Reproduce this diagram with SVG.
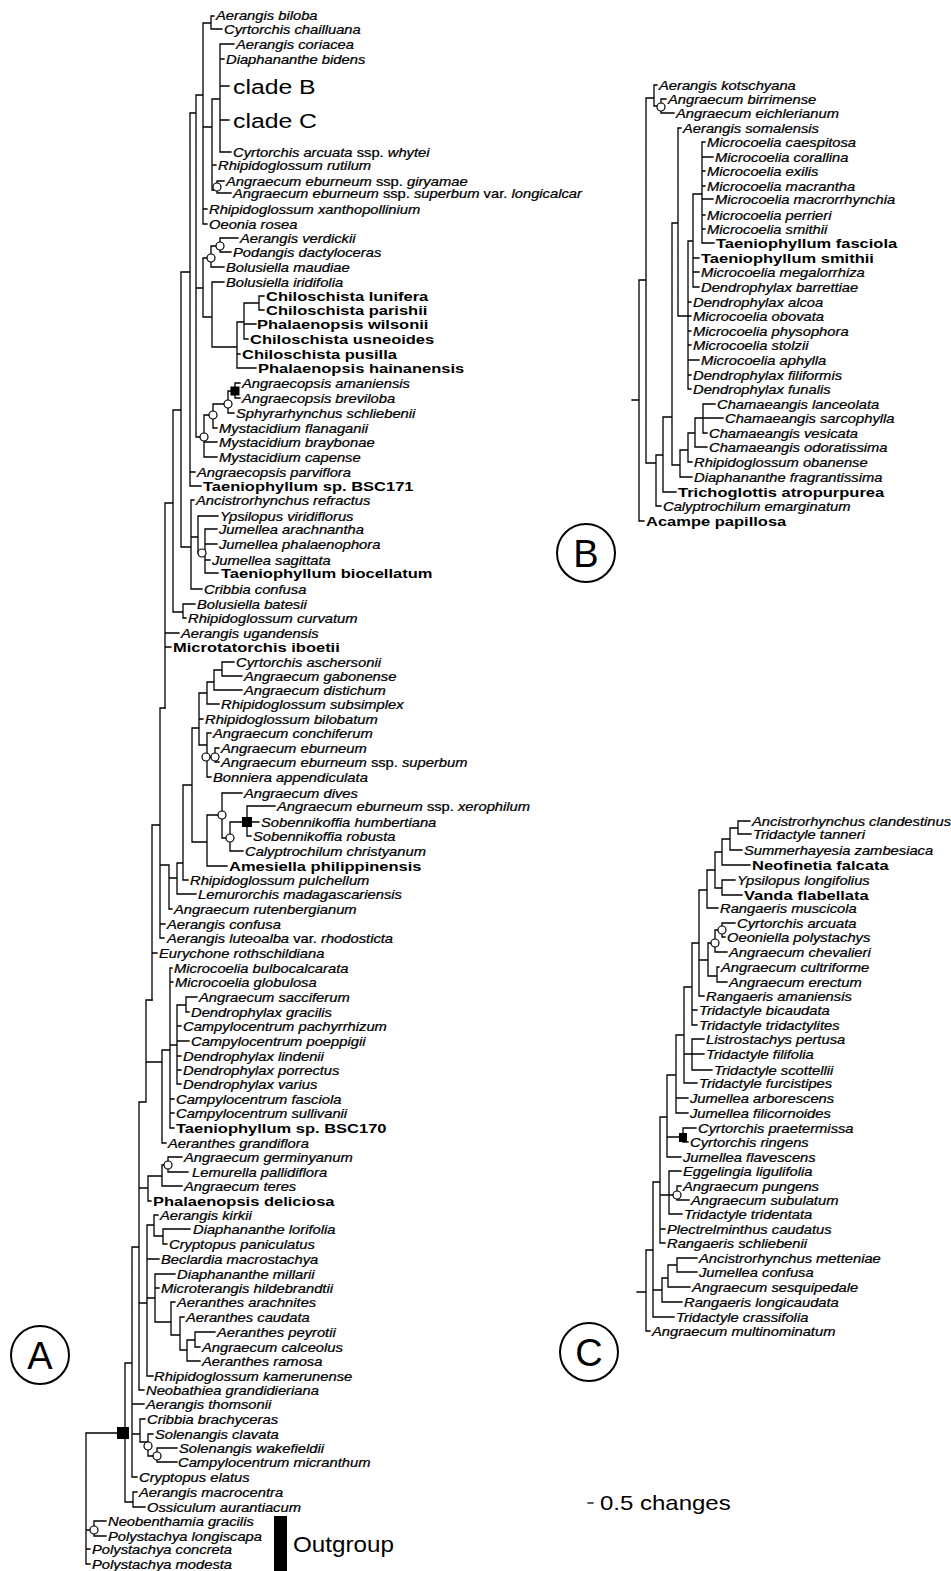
<svg xmlns="http://www.w3.org/2000/svg" width="951" height="1571" viewBox="0 0 951 1571">
<style>
text{font-family:"Liberation Sans",Arial,Helvetica,sans-serif;fill:#000}
.i{font-style:italic;font-size:12.5px;transform:scale(1.18,1);stroke:#000;stroke-width:0.25}
.b{font-weight:bold;font-size:13px;transform:scale(1.27,1)}
.n{font-style:normal}
.big{font-size:21px;transform:scale(1.18,1)}
.lbl{font-size:38px;text-anchor:middle}
.ln{fill:none;stroke:#000;stroke-width:1.3;stroke-linecap:square}
.nd{fill:#fff;stroke:#000;stroke-width:1.2}
.sq{fill:#000}
.ring{fill:none;stroke:#000;stroke-width:2}
</style>
<rect width="951" height="1571" fill="#fff"/>
<g id="connectors">
<path class="ln" d="M211 16V29M211 16H214M211 29H222M203 23V224M203 23H211M203 209H207M203 224H207M203 127H212M212 99V190M212 99H220M212 165H216M212 190H217M220 44V152M220 44H234M220 59H224M220 86H229M220 120H229M220 152H231M217 181V193M217 181H224M217 193H231M220 238V252M220 238H238M220 252H231M211 246V267M211 246H220M211 267H224M259 296V310M259 296H264M259 310H264M244 303V339M244 303H259M244 324H256M244 339H248M237 322V368M237 322H244M237 354H240M237 368H256M212 282V347M212 282H224M212 347H237M203 258V317M203 258H211M203 317H212M235 383V398M235 383H240M235 398H240M228 391V413M228 391H235M228 413H234M213 404V428M213 404H228M213 428H217M204 415V457M204 415H213M204 442H217M204 457H217M196 95V437M196 95H203M196 288H203M196 437H204M190 113V486M190 113H196M190 472H195M190 486H201M205 529V573M205 529H217M205 544H217M205 560H210M205 573H218M198 516V553M198 516H218M198 553H205M191 500V589M191 500H194M191 537H198M191 589H202M181 272V547M181 272H190M181 547H191M183 604V618M183 604H195M183 618H186M173 410V612M173 410H181M173 612H183M165 503V708M165 503H173M165 633H179M165 647H171"/>
<path class="ln" d="M222 662V676M222 662H234M222 676H242M214 670V690M214 670H222M214 690H242M207 682V704M207 682H214M207 704H219M215 748V762M215 748H219M215 762H219M207 733V777M207 733H211M207 757H215M207 777H211M199 693V745M199 693H207M199 719H203M199 745H207M247 806V836M247 806H275M247 822H259M247 836H251M230 822V851M230 822H247M230 851H243M222 793V838M222 793H242M222 838H230M207 815V866M207 815H222M207 866H227M192 728V842M192 728H199M192 842H207M183 785V880M183 785H192M183 880H188M177 863V894M177 863H183M177 894H196M169 865V909M169 878H177M169 909H172M160 708V938M160 708H165M160 865H169M160 924H165M160 938H164M152 825V1000M152 825H160M152 953H157"/>
<path class="ln" d="M186 997V1012M186 997H197M186 1012H189M177 1005V1084M177 1005H186M177 1026H181M177 1041H189M177 1056H181M177 1070H181M177 1084H181M170 968V1128M170 968H172M170 982H173M170 1045H177M170 1099H174M170 1113H174M170 1128H174M162 1050V1143M162 1050H170M162 1143H166M146 1000V1102M146 1000H152M146 1062H162M168 1157V1172M168 1157H182M168 1172H188M162 1165V1186M162 1165H168M162 1186H182M148 1176V1201M148 1176H162M148 1201H151M163 1229V1244M163 1229H190M163 1244H167M154 1215V1236M154 1215H158M154 1236H163M195 1332V1347M195 1332H215M195 1347H200M187 1340V1361M187 1340H195M187 1361H200M180 1317V1350M180 1317H184M180 1350H187M171 1302V1335M171 1302H175M171 1335H180M155 1274V1322M155 1274H175M155 1288H159M155 1322H171M147 1225V1376M147 1225H154M147 1259H159M147 1298H155M147 1376H153M139 1102V1390M139 1102H146M139 1188H148M139 1303H147M139 1390H144M157 1448V1462M157 1448H177M157 1462H177M148 1434V1456M148 1434H153M148 1456H157M140 1419V1442M140 1419H145M140 1442H148M132 1247V1477M132 1247H139M132 1404H144M132 1434H140M132 1477H137M133 1492V1507M133 1492H137M133 1507H145M125 1363V1502M125 1363H132M125 1502H133M86 1433V1564M86 1433H125M86 1530H94M86 1549H90M86 1564H90M94 1521V1536M94 1521H106M94 1536H106"/>
<path class="ln" d="M661 99V113M661 99H666M661 113H674M654 85V106M654 85H657M654 106H661M702 142V243M702 142H705M702 157H713M702 171H705M702 186H705M702 199H713M702 215H705M702 229H705M702 243H714M693 194V287M693 194H702M693 258H699M693 272H699M693 287H699M688 241V389M688 241H693M688 302H691M688 316H691M688 331H691M688 345H691M688 360H699M688 375H691M688 389H691M678 128V316M678 128H681M678 316H688M703 404V433M703 404H715M695 418H723M703 433H707M695 418V447M695 447H707M688 433V462M688 433H695M688 462H692M680 450V477M680 450H688M680 477H692M672 223V465M672 223H678M672 465H680M663 417V492M663 417H672M663 492H676M656 455V506M656 455H663M656 506H661M646 98V463M646 98H654M646 463H656M639 280V521M639 280H646M639 521H644M632 400H639"/>
<path class="ln" d="M738 821V834M738 821H750M738 834H751M730 828V850M730 828H738M730 850H742M722 839V865M722 839H730M722 865H750M722 880V895M722 880H735M722 895H742M715 852V888M715 852H722M715 888H722M707 870V908M707 870H715M707 908H718M722 923V937M722 923H735M722 937H725M715 930V952M715 930H722M715 952H727M717 967V982M717 967H719M717 982H727M708 943V976M708 943H715M708 976H717M699 890V996M699 890H707M699 960H708M699 996H704M692 943V1025M692 943H699M692 1010H697M692 1025H697M692 1039V1070M692 1039H704M684 1054H704M692 1070H712M684 987V1083M684 987H692M684 1083H697M676 1035V1113M676 1035H684M676 1098H688M676 1113H688M683 1128V1142M683 1128H696M683 1142H688M667 1075V1157M667 1075H676M667 1137H683M667 1157H681M677 1186V1200M677 1186H681M677 1200H689M669 1171V1214M669 1171H681M669 1195H677M669 1214H682M660 1117V1243M660 1117H667M660 1195H669M660 1229H665M660 1243H665M677 1258V1272M677 1258H697M677 1272H697M668 1265V1287M668 1265H677M668 1287H690M662 1278V1302M662 1278H668M662 1302H682M653 1182V1317M653 1182H660M653 1290H662M653 1317H674M646 1250V1331M646 1250H653M646 1331H650M637 1292H646"/>
<path class="ln" d="M588 1503H593"/>
<g id="node-marks">
<circle class="nd" cx="217" cy="187" r="4"/><circle class="nd" cx="220" cy="246" r="4"/><circle class="nd" cx="211" cy="258" r="4"/><circle class="nd" cx="228" cy="404" r="4"/><circle class="nd" cx="213" cy="415" r="4"/><circle class="nd" cx="204" cy="437" r="4"/><circle class="nd" cx="202" cy="553" r="4"/><circle class="nd" cx="206" cy="757" r="4"/><circle class="nd" cx="215" cy="757" r="4"/><circle class="nd" cx="222" cy="815" r="4"/><circle class="nd" cx="230" cy="838" r="4"/><circle class="nd" cx="168" cy="1165" r="4"/><circle class="nd" cx="148" cy="1446" r="4"/><circle class="nd" cx="157" cy="1456" r="4"/><circle class="nd" cx="94" cy="1530" r="4"/><circle class="nd" cx="661" cy="107" r="4"/><circle class="nd" cx="722" cy="930" r="4"/><circle class="nd" cx="715" cy="943" r="4"/><circle class="nd" cx="677" cy="1195" r="4"/>
<rect class="sq" x="230.5" y="386.5" width="9" height="9"/><rect class="sq" x="242" y="817" width="10" height="10"/><rect class="sq" x="117" y="1427" width="12" height="12"/><rect class="sq" x="679" y="1133" width="8" height="9"/>
</g>
</g>
<g id="a1" transform="translate(216,19.5)"><text class="i">Aerangis biloba</text></g>
<g id="a2" transform="translate(224,33.5)"><text class="i">Cyrtorchis chailluana</text></g>
<g id="a3" transform="translate(236,48.5)"><text class="i">Aerangis coriacea</text></g>
<g id="a4" transform="translate(226,63.5)"><text class="i">Diaphananthe bidens</text></g>
<g id="cladeB" transform="translate(233,94)"><text class="big">clade B</text></g>
<g id="cladeC" transform="translate(233,128)"><text class="big">clade C</text></g>
<g id="a7" transform="translate(233,156.5)"><text class="i">Cyrtorchis arcuata <tspan class="n">ssp.</tspan> whytei</text></g>
<g id="a8" transform="translate(218,169.5)"><text class="i">Rhipidoglossum rutilum</text></g>
<g id="a9" transform="translate(226,185.5)"><text class="i">Angraecum eburneum <tspan class="n">ssp.</tspan> giryamae</text></g>
<g id="a10" transform="translate(233,197.5)"><text class="i">Angraecum eburneum <tspan class="n">ssp.</tspan> superbum <tspan class="n">var.</tspan> longicalcar</text></g>
<g id="a11" transform="translate(209,213.5)"><text class="i">Rhipidoglossum xanthopollinium</text></g>
<g id="a12" transform="translate(209,228.5)"><text class="i">Oeonia rosea</text></g>
<g id="a13" transform="translate(240,242.5)"><text class="i">Aerangis verdickii</text></g>
<g id="a14" transform="translate(233,256.5)"><text class="i">Podangis dactyloceras</text></g>
<g id="a15" transform="translate(226,271.5)"><text class="i">Bolusiella maudiae</text></g>
<g id="a16" transform="translate(226,286.5)"><text class="i">Bolusiella iridifolia</text></g>
<g id="a17" transform="translate(266,301)"><text class="b">Chiloschista lunifera</text></g>
<g id="a18" transform="translate(266,315)"><text class="b">Chiloschista parishii</text></g>
<g id="a19" transform="translate(257,329)"><text class="b">Phalaenopsis wilsonii</text></g>
<g id="a20" transform="translate(250,344)"><text class="b">Chiloschista usneoides</text></g>
<g id="a21" transform="translate(242,359)"><text class="b">Chiloschista pusilla</text></g>
<g id="a22" transform="translate(258,373)"><text class="b">Phalaenopsis hainanensis</text></g>
<g id="a23" transform="translate(242,387.5)"><text class="i">Angraecopsis amaniensis</text></g>
<g id="a24" transform="translate(242,402.5)"><text class="i">Angraecopsis breviloba</text></g>
<g id="a25" transform="translate(236,417.5)"><text class="i">Sphyrarhynchus schliebenii</text></g>
<g id="a26" transform="translate(219,432.5)"><text class="i">Mystacidium flanaganii</text></g>
<g id="a27" transform="translate(219,446.5)"><text class="i">Mystacidium braybonae</text></g>
<g id="a28" transform="translate(219,461.5)"><text class="i">Mystacidium capense</text></g>
<g id="a29" transform="translate(197,476.5)"><text class="i">Angraecopsis parviflora</text></g>
<g id="a30" transform="translate(203,491)"><text class="b">Taeniophyllum sp. BSC171</text></g>
<g id="a31" transform="translate(196,504.5)"><text class="i">Ancistrorhynchus refractus</text></g>
<g id="a32" transform="translate(220,520.5)"><text class="i">Ypsilopus viridiflorus</text></g>
<g id="a33" transform="translate(219,533.5)"><text class="i">Jumellea arachnantha</text></g>
<g id="a34" transform="translate(219,548.5)"><text class="i">Jumellea phalaenophora</text></g>
<g id="a35" transform="translate(212,564.5)"><text class="i">Jumellea sagittata</text></g>
<g id="a36" transform="translate(221,578)"><text class="b">Taeniophyllum biocellatum</text></g>
<g id="a37" transform="translate(204,593.5)"><text class="i">Cribbia confusa</text></g>
<g id="a38" transform="translate(197,608.5)"><text class="i">Bolusiella batesii</text></g>
<g id="a39" transform="translate(188,622.5)"><text class="i">Rhipidoglossum curvatum</text></g>
<g id="a40" transform="translate(181,637.5)"><text class="i">Aerangis ugandensis</text></g>
<g id="a41" transform="translate(173,652)"><text class="b">Microtatorchis iboetii</text></g>
<g id="a42" transform="translate(236,666.5)"><text class="i">Cyrtorchis aschersonii</text></g>
<g id="a43" transform="translate(244,680.5)"><text class="i">Angraecum gabonense</text></g>
<g id="a44" transform="translate(244,694.5)"><text class="i">Angraecum distichum</text></g>
<g id="a45" transform="translate(221,708.5)"><text class="i">Rhipidoglossum subsimplex</text></g>
<g id="a46" transform="translate(205,723.5)"><text class="i">Rhipidoglossum bilobatum</text></g>
<g id="a47" transform="translate(213,737.5)"><text class="i">Angraecum conchiferum</text></g>
<g id="a48" transform="translate(221,752.5)"><text class="i">Angraecum eburneum</text></g>
<g id="a49" transform="translate(221,766.5)"><text class="i">Angraecum eburneum <tspan class="n">ssp.</tspan> superbum</text></g>
<g id="a50" transform="translate(213,781.5)"><text class="i">Bonniera appendiculata</text></g>
<g id="a51" transform="translate(244,797.5)"><text class="i">Angraecum dives</text></g>
<g id="a52" transform="translate(277,810.5)"><text class="i">Angraecum eburneum <tspan class="n">ssp.</tspan> xerophilum</text></g>
<g id="a53" transform="translate(261,826.5)"><text class="i">Sobennikoffia humbertiana</text></g>
<g id="a54" transform="translate(253,840.5)"><text class="i">Sobennikoffia robusta</text></g>
<g id="a55" transform="translate(245,855.5)"><text class="i">Calyptrochilum christyanum</text></g>
<g id="a56" transform="translate(229,871)"><text class="b">Amesiella philippinensis</text></g>
<g id="a57" transform="translate(190,884.5)"><text class="i">Rhipidoglossum pulchellum</text></g>
<g id="a58" transform="translate(198,898.5)"><text class="i">Lemurorchis madagascariensis</text></g>
<g id="a59" transform="translate(174,913.5)"><text class="i">Angraecum rutenbergianum</text></g>
<g id="a60" transform="translate(167,928.5)"><text class="i">Aerangis confusa</text></g>
<g id="a61" transform="translate(167,942.5)"><text class="i">Aerangis luteoalba <tspan class="n">var.</tspan> rhodosticta</text></g>
<g id="a62" transform="translate(159,957.5)"><text class="i">Eurychone rothschildiana</text></g>
<g id="a63" transform="translate(174,972.5)"><text class="i">Microcoelia bulbocalcarata</text></g>
<g id="a64" transform="translate(175,986.5)"><text class="i">Microcoelia globulosa</text></g>
<g id="a65" transform="translate(199,1001.5)"><text class="i">Angraecum sacciferum</text></g>
<g id="a66" transform="translate(191,1016.5)"><text class="i">Dendrophylax gracilis</text></g>
<g id="a67" transform="translate(183,1030.5)"><text class="i">Campylocentrum pachyrrhizum</text></g>
<g id="a68" transform="translate(191,1045.5)"><text class="i">Campylocentrum poeppigii</text></g>
<g id="a69" transform="translate(183,1060.5)"><text class="i">Dendrophylax lindenii</text></g>
<g id="a70" transform="translate(183,1074.5)"><text class="i">Dendrophylax porrectus</text></g>
<g id="a71" transform="translate(183,1088.5)"><text class="i">Dendrophylax varius</text></g>
<g id="a72" transform="translate(176,1103.5)"><text class="i">Campylocentrum fasciola</text></g>
<g id="a73" transform="translate(176,1117.5)"><text class="i">Campylocentrum sullivanii</text></g>
<g id="a74" transform="translate(176,1133)"><text class="b">Taeniophyllum sp. BSC170</text></g>
<g id="a75" transform="translate(168,1147.5)"><text class="i">Aeranthes grandiflora</text></g>
<g id="a76" transform="translate(184,1161.5)"><text class="i">Angraecum germinyanum</text></g>
<g id="a77" transform="translate(192,1176.5)"><text class="i">Lemurella pallidiflora</text></g>
<g id="a78" transform="translate(184,1190.5)"><text class="i">Angraecum teres</text></g>
<g id="a79" transform="translate(153,1206)"><text class="b">Phalaenopsis deliciosa</text></g>
<g id="a80" transform="translate(160,1219.5)"><text class="i">Aerangis kirkii</text></g>
<g id="a81" transform="translate(193,1233.5)"><text class="i">Diaphananthe lorifolia</text></g>
<g id="a82" transform="translate(169,1248.5)"><text class="i">Cryptopus paniculatus</text></g>
<g id="a83" transform="translate(161,1263.5)"><text class="i">Beclardia macrostachya</text></g>
<g id="a84" transform="translate(177,1278.5)"><text class="i">Diaphananthe millarii</text></g>
<g id="a85" transform="translate(161,1292.5)"><text class="i">Microterangis hildebrandtii</text></g>
<g id="a86" transform="translate(177,1306.5)"><text class="i">Aeranthes arachnites</text></g>
<g id="a87" transform="translate(186,1321.5)"><text class="i">Aeranthes caudata</text></g>
<g id="a88" transform="translate(217,1336.5)"><text class="i">Aeranthes peyrotii</text></g>
<g id="a89" transform="translate(202,1351.5)"><text class="i">Angraecum calceolus</text></g>
<g id="a90" transform="translate(202,1365.5)"><text class="i">Aeranthes ramosa</text></g>
<g id="a91" transform="translate(154,1380.5)"><text class="i">Rhipidoglossum kamerunense</text></g>
<g id="a92" transform="translate(146,1394.5)"><text class="i">Neobathiea grandidieriana</text></g>
<g id="a93" transform="translate(146,1408.5)"><text class="i">Aerangis thomsonii</text></g>
<g id="a94" transform="translate(147,1423.5)"><text class="i">Cribbia brachyceras</text></g>
<g id="a95" transform="translate(155,1438.5)"><text class="i">Solenangis clavata</text></g>
<g id="a96" transform="translate(179,1452.5)"><text class="i">Solenangis wakefieldii</text></g>
<g id="a97" transform="translate(178,1466.5)"><text class="i">Campylocentrum micranthum</text></g>
<g id="a98" transform="translate(139,1481.5)"><text class="i">Cryptopus elatus</text></g>
<g id="a99" transform="translate(139,1496.5)"><text class="i">Aerangis macrocentra</text></g>
<g id="a100" transform="translate(147,1511.5)"><text class="i">Ossiculum aurantiacum</text></g>
<g id="a101" transform="translate(108,1525.5)"><text class="i">Neobenthamia gracilis</text></g>
<g id="a102" transform="translate(108,1540.5)"><text class="i">Polystachya longiscapa</text></g>
<g id="a103" transform="translate(92,1553.5)"><text class="i">Polystachya concreta</text></g>
<g id="a104" transform="translate(92,1568.5)"><text class="i">Polystachya modesta</text></g>
<g id="outgroup"><rect x="274" y="1516" width="13" height="55" fill="#000"/><g transform="translate(293,1552)"><text style="font-size:22px;transform:scale(1.1,1)">Outgroup</text></g></g>
<g id="b1" transform="translate(659,89.5)"><text class="i">Aerangis kotschyana</text></g>
<g id="b2" transform="translate(668,103.5)"><text class="i">Angraecum birrimense</text></g>
<g id="b3" transform="translate(676,117.5)"><text class="i">Angraecum eichlerianum</text></g>
<g id="b4" transform="translate(683,132.5)"><text class="i">Aerangis somalensis</text></g>
<g id="b5" transform="translate(707,146.5)"><text class="i">Microcoelia caespitosa</text></g>
<g id="b6" transform="translate(715,161.5)"><text class="i">Microcoelia corallina</text></g>
<g id="b7" transform="translate(707,175.5)"><text class="i">Microcoelia exilis</text></g>
<g id="b8" transform="translate(707,190.5)"><text class="i">Microcoelia macrantha</text></g>
<g id="b9" transform="translate(715,203.5)"><text class="i">Microcoelia macrorrhynchia</text></g>
<g id="b10" transform="translate(707,219.5)"><text class="i">Microcoelia perrieri</text></g>
<g id="b11" transform="translate(707,233.5)"><text class="i">Microcoelia smithii</text></g>
<g id="b12" transform="translate(716,248)"><text class="b">Taeniophyllum fasciola</text></g>
<g id="b13" transform="translate(701,263)"><text class="b">Taeniophyllum smithii</text></g>
<g id="b14" transform="translate(701,276.5)"><text class="i">Microcoelia megalorrhiza</text></g>
<g id="b15" transform="translate(701,291.5)"><text class="i">Dendrophylax barrettiae</text></g>
<g id="b16" transform="translate(693,306.5)"><text class="i">Dendrophylax alcoa</text></g>
<g id="b17" transform="translate(693,320.5)"><text class="i">Microcoelia obovata</text></g>
<g id="b18" transform="translate(693,335.5)"><text class="i">Microcoelia physophora</text></g>
<g id="b19" transform="translate(693,349.5)"><text class="i">Microcoelia stolzii</text></g>
<g id="b20" transform="translate(701,364.5)"><text class="i">Microcoelia aphylla</text></g>
<g id="b21" transform="translate(693,379.5)"><text class="i">Dendrophylax filiformis</text></g>
<g id="b22" transform="translate(693,393.5)"><text class="i">Dendrophylax funalis</text></g>
<g id="b23" transform="translate(717,408.5)"><text class="i">Chamaeangis lanceolata</text></g>
<g id="b24" transform="translate(725,422.5)"><text class="i">Chamaeangis sarcophylla</text></g>
<g id="b25" transform="translate(709,437.5)"><text class="i">Chamaeangis vesicata</text></g>
<g id="b26" transform="translate(709,451.5)"><text class="i">Chamaeangis odoratissima</text></g>
<g id="b27" transform="translate(694,466.5)"><text class="i">Rhipidoglossum obanense</text></g>
<g id="b28" transform="translate(694,481.5)"><text class="i">Diaphananthe fragrantissima</text></g>
<g id="b29" transform="translate(678,497)"><text class="b">Trichoglottis atropurpurea</text></g>
<g id="b30" transform="translate(663,510.5)"><text class="i">Calyptrochilum emarginatum</text></g>
<g id="b31" transform="translate(646,526)"><text class="b">Acampe papillosa</text></g>
<g id="c1" transform="translate(752,825.5)"><text class="i">Ancistrorhynchus clandestinus</text></g>
<g id="c2" transform="translate(753,838.5)"><text class="i">Tridactyle tanneri</text></g>
<g id="c3" transform="translate(744,854.5)"><text class="i">Summerhayesia zambesiaca</text></g>
<g id="c4" transform="translate(752,870)"><text class="b">Neofinetia falcata</text></g>
<g id="c5" transform="translate(737,884.5)"><text class="i">Ypsilopus longifolius</text></g>
<g id="c6" transform="translate(744,900)"><text class="b">Vanda flabellata</text></g>
<g id="c7" transform="translate(720,912.5)"><text class="i">Rangaeris muscicola</text></g>
<g id="c8" transform="translate(737,927.5)"><text class="i">Cyrtorchis arcuata</text></g>
<g id="c9" transform="translate(727,941.5)"><text class="i">Oeoniella polystachys</text></g>
<g id="c10" transform="translate(729,956.5)"><text class="i">Angraecum chevalieri</text></g>
<g id="c11" transform="translate(721,971.5)"><text class="i">Angraecum cultriforme</text></g>
<g id="c12" transform="translate(729,986.5)"><text class="i">Angraecum erectum</text></g>
<g id="c13" transform="translate(706,1000.5)"><text class="i">Rangaeris amaniensis</text></g>
<g id="c14" transform="translate(699,1014.5)"><text class="i">Tridactyle bicaudata</text></g>
<g id="c15" transform="translate(699,1029.5)"><text class="i">Tridactyle tridactylites</text></g>
<g id="c16" transform="translate(706,1043.5)"><text class="i">Listrostachys pertusa</text></g>
<g id="c17" transform="translate(706,1058.5)"><text class="i">Tridactyle filifolia</text></g>
<g id="c18" transform="translate(714,1074.5)"><text class="i">Tridactyle scottellii</text></g>
<g id="c19" transform="translate(699,1087.5)"><text class="i">Tridactyle furcistipes</text></g>
<g id="c20" transform="translate(690,1102.5)"><text class="i">Jumellea arborescens</text></g>
<g id="c21" transform="translate(690,1117.5)"><text class="i">Jumellea filicornoides</text></g>
<g id="c22" transform="translate(698,1132.5)"><text class="i">Cyrtorchis praetermissa</text></g>
<g id="c23" transform="translate(690,1146.5)"><text class="i">Cyrtorchis ringens</text></g>
<g id="c24" transform="translate(683,1161.5)"><text class="i">Jumellea flavescens</text></g>
<g id="c25" transform="translate(683,1175.5)"><text class="i">Eggelingia ligulifolia</text></g>
<g id="c26" transform="translate(683,1190.5)"><text class="i">Angraecum pungens</text></g>
<g id="c27" transform="translate(691,1204.5)"><text class="i">Angraecum subulatum</text></g>
<g id="c28" transform="translate(684,1218.5)"><text class="i">Tridactyle tridentata</text></g>
<g id="c29" transform="translate(667,1233.5)"><text class="i">Plectrelminthus caudatus</text></g>
<g id="c30" transform="translate(667,1247.5)"><text class="i">Rangaeris schliebenii</text></g>
<g id="c31" transform="translate(699,1262.5)"><text class="i">Ancistrorhynchus metteniae</text></g>
<g id="c32" transform="translate(699,1276.5)"><text class="i">Jumellea confusa</text></g>
<g id="c33" transform="translate(692,1291.5)"><text class="i">Angraecum sesquipedale</text></g>
<g id="c34" transform="translate(684,1306.5)"><text class="i">Rangaeris longicaudata</text></g>
<g id="c35" transform="translate(676,1321.5)"><text class="i">Tridactyle crassifolia</text></g>
<g id="c36" transform="translate(652,1335.5)"><text class="i">Angraecum multinominatum</text></g>
<g id="panelA"><circle class="ring" cx="40" cy="1355" r="29"/><text class="lbl" x="40" y="1369">A</text></g>
<g id="panelB"><circle class="ring" cx="586" cy="553" r="29"/><text class="lbl" x="586" y="567">B</text></g>
<g id="panelC"><circle class="ring" cx="589" cy="1352" r="29"/><text class="lbl" x="589" y="1366">C</text></g>
<g id="scale" transform="translate(600,1510)"><text style="font-size:20px;transform:scale(1.2,1)">0.5 changes</text></g>
</svg>
